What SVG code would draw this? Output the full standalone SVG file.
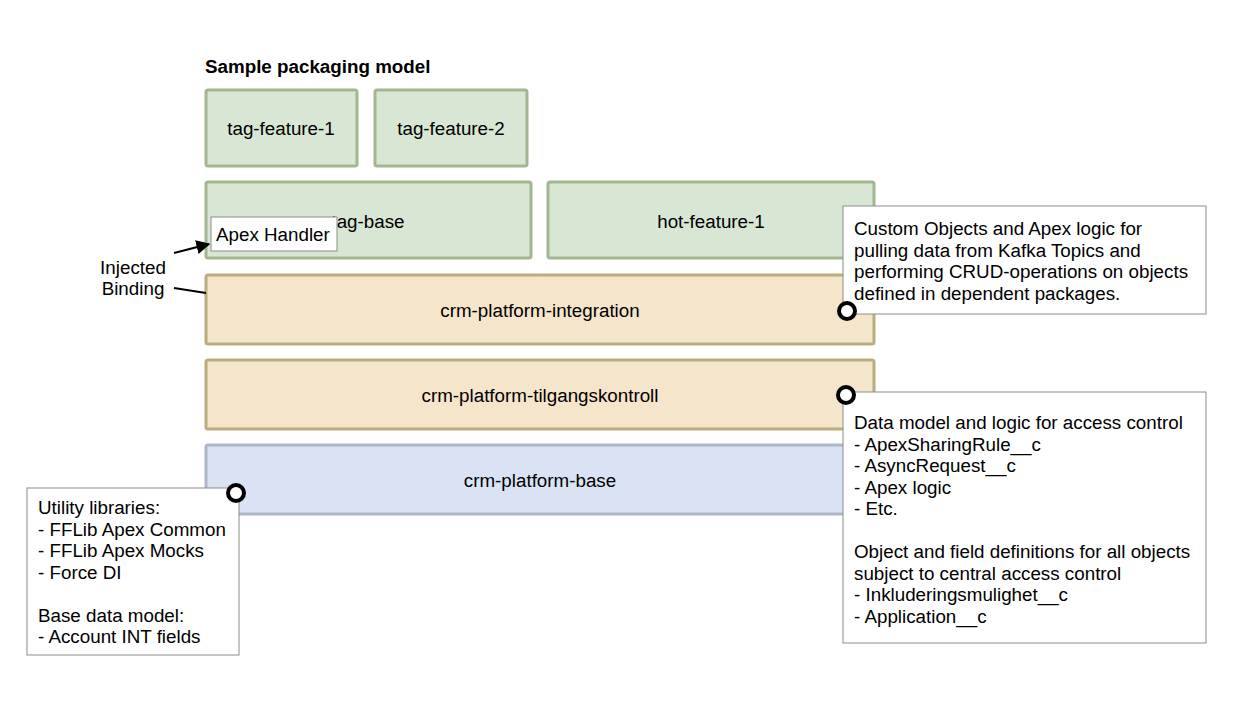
<svg xmlns="http://www.w3.org/2000/svg" width="1242" height="722" viewBox="0 0 1242 722">
<defs>
<style>
text{font-family:"Liberation Sans",Arial,sans-serif;font-size:18.8px;fill:#000}
.c{text-anchor:middle}
.g{fill:#d8e6d4;stroke:#a2b690;stroke-width:3}
.o{fill:#f5e5cb;stroke:#bcad80;stroke-width:3}
.b{fill:#dae3f3;stroke:#aeb7c9;stroke-width:3}
.note{fill:#fff;stroke:#8c8c8c;stroke-width:1}
.dot{fill:#fff;stroke:#000;stroke-width:4}
</style>
<marker id="arr" viewBox="0 0 10 10" refX="9" refY="5" markerWidth="7" markerHeight="7" orient="auto" markerUnits="strokeWidth">
<path d="M0,0 L10,5 L0,10 z" fill="#000"/>
</marker>
</defs>
<rect width="1242" height="722" fill="#fff"/>
<text x="205" y="73" style="font-weight:bold">Sample packaging model</text>

<g id="tag-feature-1"><rect class="g" x="206" y="90" width="151" height="76" rx="2"/><text class="c" x="281" y="135">tag-feature-1</text></g>
<g id="tag-feature-2"><rect class="g" x="375" y="90" width="152" height="76" rx="2"/><text class="c" x="451" y="135">tag-feature-2</text></g>
<g id="tag-base"><rect class="g" x="206" y="182" width="325" height="76" rx="2"/><text class="c" x="368" y="228">tag-base</text></g>
<g id="hot-feature-1"><rect class="g" x="548" y="182" width="326" height="76" rx="2"/><text class="c" x="711" y="228">hot-feature-1</text></g>
<g id="crm-platform-integration"><rect class="o" x="206" y="275" width="668" height="69" rx="2"/><text class="c" x="540" y="317">crm-platform-integration</text></g>
<g id="crm-platform-tilgangskontroll"><rect class="o" x="206" y="360" width="668" height="69" rx="2"/><text class="c" x="540" y="402">crm-platform-tilgangskontroll</text></g>
<g id="crm-platform-base"><rect class="b" x="206" y="445" width="668" height="69" rx="2"/><text class="c" x="540" y="487">crm-platform-base</text></g>

<g id="apex-handler"><rect class="note" x="211" y="217" width="126" height="34"/><text x="216" y="241">Apex Handler</text></g>

<g id="injected-binding"><text class="c" x="133" y="274">Injected</text><text class="c" x="133" y="295">Binding</text></g>

<g id="connectors">
<line x1="174" y1="253" x2="209" y2="244" stroke="#000" stroke-width="2" marker-end="url(#arr)"/>
<line x1="174" y1="288" x2="206" y2="293" stroke="#000" stroke-width="2"/>
</g>

<g id="note-integration">
<rect class="note" x="843" y="206" width="363" height="108"/>
<text x="854" y="235">Custom Objects and Apex logic for</text>
<text x="854" y="256.5">pulling data from Kafka Topics and</text>
<text x="854" y="278">performing CRUD-operations on objects</text>
<text x="854" y="299.5">defined in dependent packages.</text>
<circle class="dot" cx="847" cy="311" r="8"/>
</g>

<g id="note-tilgang">
<rect class="note" x="843" y="392" width="363" height="251"/>
<text x="854" y="429">Data model and logic for access control</text>
<text x="854" y="450.5">- ApexSharingRule__c</text>
<text x="854" y="472">- AsyncRequest__c</text>
<text x="854" y="493.5">- Apex logic</text>
<text x="854" y="515">- Etc.</text>
<text x="854" y="558">Object and field definitions for all objects</text>
<text x="854" y="579.5">subject to central access control</text>
<text x="854" y="601">- Inkluderingsmulighet__c</text>
<text x="854" y="622.5">- Application__c</text>
<circle class="dot" cx="846" cy="395" r="8"/>
</g>

<g id="note-base">
<rect class="note" x="27" y="488" width="212" height="167"/>
<text x="38" y="514">Utility libraries:</text>
<text x="38" y="535.5">- FFLib Apex Common</text>
<text x="38" y="557">- FFLib Apex Mocks</text>
<text x="38" y="578.5">- Force DI</text>
<text x="38" y="621.5">Base data model:</text>
<text x="38" y="643">- Account INT fields</text>
<circle class="dot" cx="236" cy="493" r="8"/>
</g>
</svg>
